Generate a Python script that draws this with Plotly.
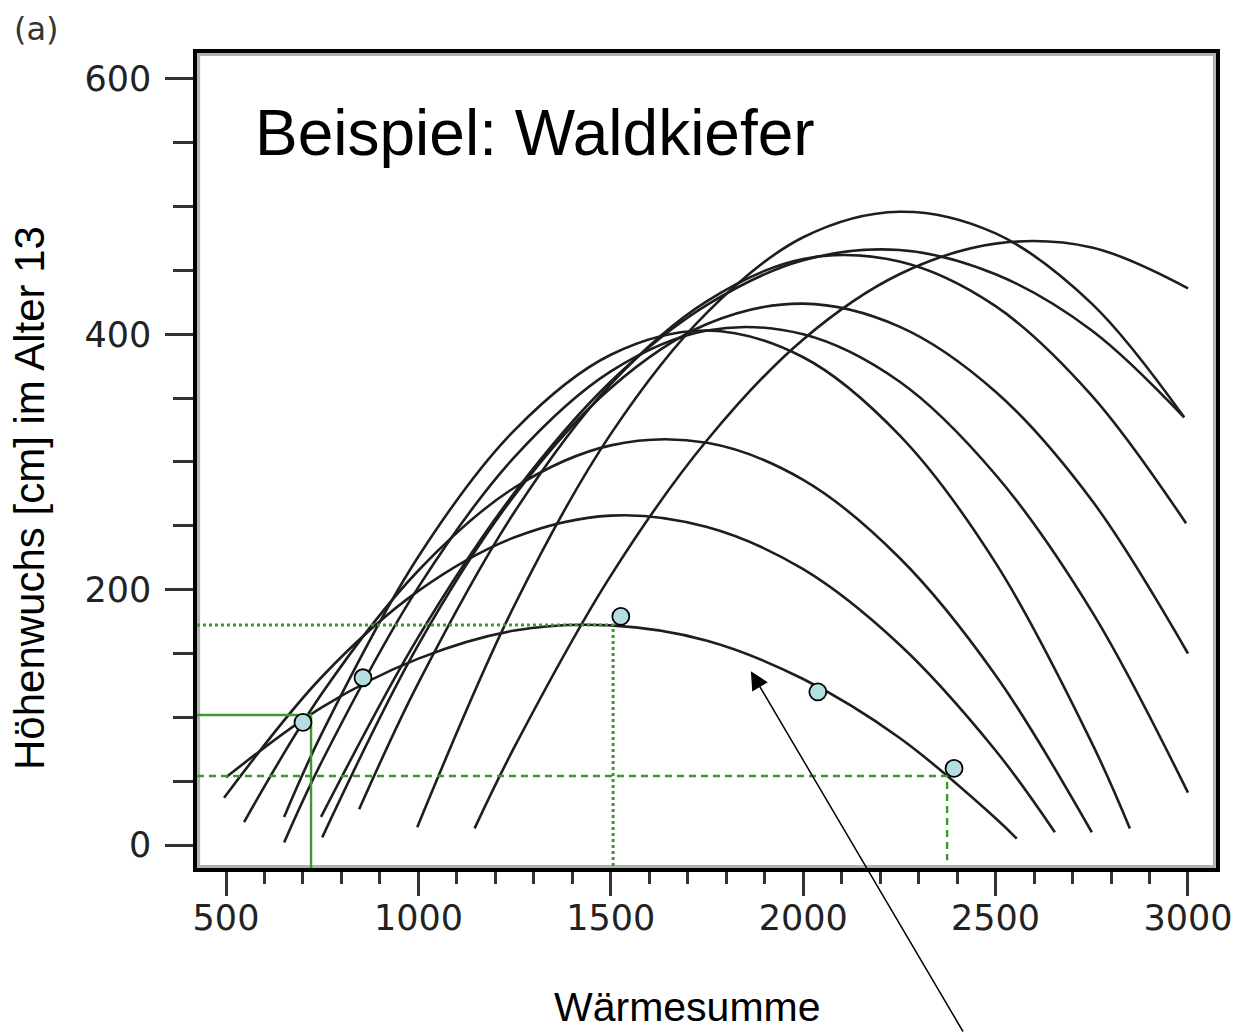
import plotly.graph_objects as go

# ---- data (Wärmesumme vs. Höhenwuchs) ----
x_A = [500, 750, 1000, 1250, 1500, 1750, 2000, 2250, 2500, 2555]
y_A = [53, 108, 146, 168, 172, 160, 130, 84, 21, 5]
x_B = [495, 750, 1000, 1250, 1500, 1750, 2000, 2250, 2500, 2654]
y_B = [37, 132, 199, 241, 258, 249, 216, 157, 74, 10]
x_C = [547, 750, 1000, 1250, 1500, 1750, 2000, 2250, 2500, 2750]
y_C = [18, 119, 215, 280, 313, 315, 286, 225, 133, 10]
x_D = [651, 750, 1000, 1250, 1500, 1750, 2000, 2250, 2500, 2750, 2849]
y_D = [22, 88, 226, 325, 384, 403, 382, 321, 221, 80, 13]
x_E = [651, 750, 1000, 1250, 1500, 1750, 2000, 2250, 2500, 2750, 3000]
y_E = [2, 66, 202, 304, 371, 403, 400, 363, 290, 183, 41]
x_F = [750, 1000, 1250, 1500, 1750, 2000, 2250, 2500, 2750, 3000]
y_F = [6, 157, 274, 358, 408, 424, 406, 355, 270, 150]
x_G = [846, 1000, 1250, 1500, 1750, 2000, 2250, 2500, 2750, 2995]
y_G = [28, 127, 261, 361, 426, 459, 457, 422, 352, 252]
x_H = [747, 1000, 1250, 1500, 1750, 2000, 2250, 2500, 2750, 2990]
y_H = [22, 163, 276, 363, 423, 458, 466, 447, 403, 335]
x_I = [997, 1250, 1500, 1750, 2000, 2250, 2500, 2750, 2990]
y_I = [14, 188, 322, 417, 476, 496, 479, 424, 335]
x_J = [1146, 1250, 1500, 1750, 2000, 2250, 2500, 2750, 3000]
y_J = [13, 77, 211, 317, 396, 447, 471, 468, 436]

# observed points on the example curve
pts_x = [700, 856, 1526, 2038, 2392]
pts_y = [96, 131, 179, 120, 60]

# green reading lines (x, y) on the example curve
ref_x = [721, 1506, 2374]
ref_y = [101.8, 172.3, 54]
ref_dash = ["solid", "dot", "7px,5px"]

x_ticks = [500, 1000, 1500, 2000, 2500, 3000]
y_ticks = [0, 200, 400, 600]

curves = [(x_A, y_A), (x_B, y_B), (x_C, y_C), (x_D, y_D), (x_E, y_E),
          (x_F, y_F), (x_G, y_G), (x_H, y_H), (x_I, y_I), (x_J, y_J)]

XR = [424.6, 3072.8]
YR = [-18.0, 620.3]
GREEN = "#3b9a2e"

fig = go.Figure()

for cx, cy in curves:
    fig.add_trace(go.Scatter(x=cx, y=cy, mode="lines",
                             line=dict(color="#1e1e1e", width=2.6, shape="spline"),
                             hoverinfo="skip", showlegend=False))

for i, (rx, ry) in enumerate(zip(ref_x, ref_y)):
    ybot = YR[0] if i < 2 else -12
    fig.add_trace(go.Scatter(x=[XR[0], rx, rx], y=[ry, ry, ybot], mode="lines",
                             line=dict(color=GREEN, width=2.4 if i != 1 else 3,
                                       dash=ref_dash[i]),
                             hoverinfo="skip", showlegend=False))

fig.add_trace(go.Scatter(x=pts_x, y=pts_y, mode="markers",
                         marker=dict(size=17, color="#b3dfe3",
                                     line=dict(color="black", width=1.8)),
                         showlegend=False))

fig.add_annotation(x=1864, y=136, xref="x", yref="y", text="",
                   showarrow=True, ax=213, ay=370, arrowhead=2,
                   arrowsize=2.4, arrowwidth=1.5, arrowcolor="black")

fig.add_annotation(x=(253 - 197) / 1019, y=(868 - 133) / 815, xref="paper", yref="paper",
                   text="Beispiel: Waldkiefer", showarrow=False, xanchor="left",
                   yanchor="middle", font=dict(size=64, color="black",
                                               family="Liberation Sans, Arial"))
fig.add_annotation(x=(12 - 197) / 1019, y=(868 - 29) / 815, xref="paper", yref="paper",
                   text="(a)", showarrow=False, xanchor="left", yanchor="middle",
                   font=dict(size=32, color="#333", family="DejaVu Sans"))
fig.add_annotation(x=(30 - 197) / 1019, y=(868 - 498) / 815, xref="paper", yref="paper",
                   text="Höhenwuchs [cm] im Alter 13", showarrow=False, textangle=-90,
                   xanchor="center", yanchor="middle",
                   font=dict(size=42, color="black", family="Liberation Sans, Arial"))
fig.add_annotation(x=(687 - 197) / 1019, y=(868 - 1007) / 815, xref="paper", yref="paper",
                   text="Wärmesumme", showarrow=False, xanchor="center", yanchor="middle",
                   font=dict(size=41, color="black", family="Liberation Sans, Arial"))

fig.add_shape(type="rect", xref="paper", yref="paper",
              x0=1.6 / 1019, x1=1 - 1.6 / 1019, y0=1.6 / 815, y1=1 - 1.6 / 815,
              line=dict(color="#b0b0b0", width=3), layer="below")

tickfont = dict(size=35, color="#222", family="DejaVu Sans")
fig.update_xaxes(range=XR, tickvals=x_ticks, ticks="outside", ticklen=24, tickwidth=3,
                 tickcolor="#333", showline=True, linecolor="black", linewidth=3.5,
                 mirror=True, showgrid=False, zeroline=False, tickfont=tickfont,
                 ticklabelstandoff=-8, automargin=False,
                 minor=dict(dtick=100, tick0=500, ticks="outside", ticklen=12,
                            tickwidth=3, tickcolor="#333", showgrid=False))
fig.update_yaxes(range=YR, tickvals=y_ticks, ticks="outside", ticklen=28, tickwidth=3,
                 tickcolor="#333", showline=True, linecolor="black", linewidth=3.5,
                 mirror=True, showgrid=False, zeroline=False, tickfont=tickfont,
                 ticklabelstandoff=7, automargin=False,
                 minor=dict(dtick=50, tick0=0, ticks="outside", ticklen=20,
                            tickwidth=3, tickcolor="#333", showgrid=False))

fig.update_layout(width=1237, height=1033,
                  margin=dict(l=197, r=21, t=53, b=165),
                  paper_bgcolor="white", plot_bgcolor="white",
                  font=dict(family="Liberation Sans, Arial"),
                  showlegend=False)

fig.write_html("out.html", config={"displayModeBar": False},
               post_script="document.body.style.margin='0';"
                           "document.body.style.overflow='hidden';"
                           "document.documentElement.style.overflow='hidden';")
